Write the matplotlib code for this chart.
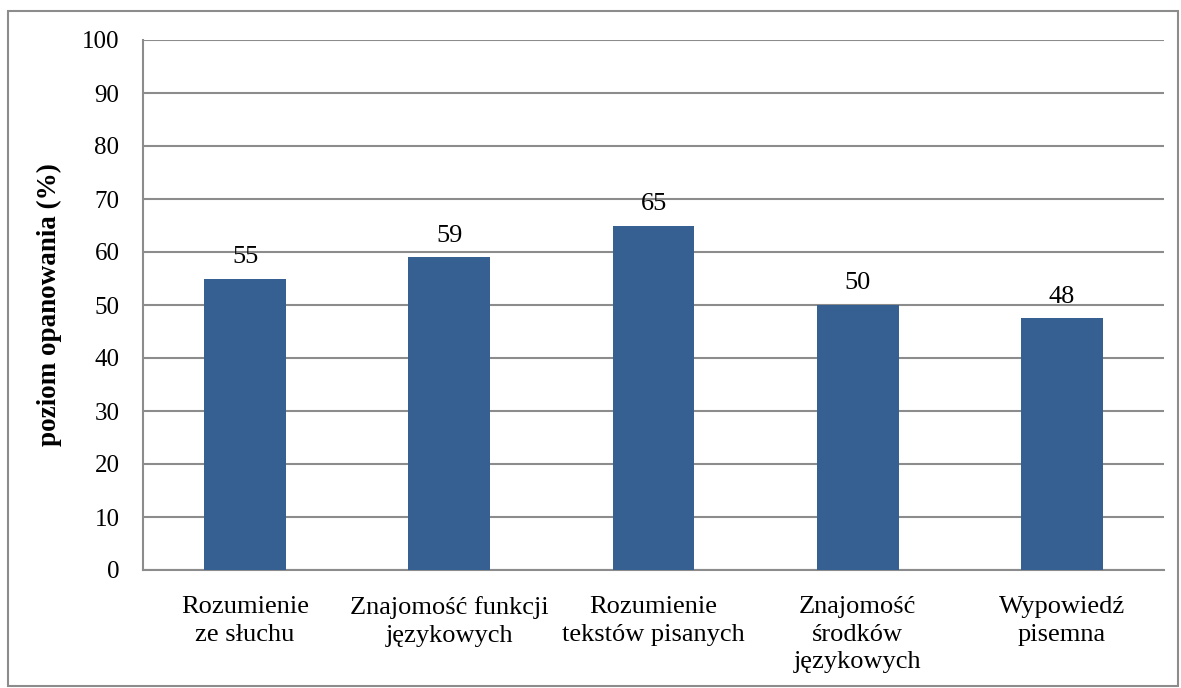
import numpy as np
import matplotlib.pyplot as plt
from matplotlib.patches import Rectangle

plt.rcParams['font.family'] = ['Liberation Serif', 'DejaVu Serif']

categories = ["Rozumienie\nze słuchu", "Znajomość funkcji\njęzykowych",
              "Rozumienie\ntekstów pisanych", "Znajomość\nśrodków\njęzykowych",
              "Wypowiedź\npisemna"]
values = [55, 59, 65, 50, 47.5]
labels = ["55", "59", "65", "50", "48"]

fig = plt.figure(figsize=(11.81, 6.88), dpi=100)
ax = fig.add_axes([143/1181, 1-570/688, 1021/1181, 530/688])

x = np.arange(len(categories))
ax.bar(x, values, width=0.4, color='#376092', zorder=3)
for xi, v, lb in zip(x, values, labels):
    ax.text(xi, v + 2.0, lb, ha='center', va='bottom', fontsize=19)

ax.set_xlim(-0.5, len(categories) - 0.5)
ax.set_ylim(0, 100)
ax.set_yticks(range(0, 101, 10))
ax.set_xticks(x)
ax.set_xticklabels(categories, fontsize=19, linespacing=1.32, va='top')
ax.tick_params(axis='y', labelsize=18, length=0, pad=17)
ax.tick_params(axis='x', length=0, pad=19)
ax.grid(axis='y', color='#8c8c8c', linewidth=1.5, zorder=0)
for s in ['top', 'right']:
    ax.spines[s].set_visible(False)
for s in ['left', 'bottom']:
    ax.spines[s].set_color('#8c8c8c')
    ax.spines[s].set_linewidth(1.5)
ax.set_ylabel('poziom opanowania (%)', fontsize=19.5, fontweight='bold', labelpad=14)

fig.patches.append(Rectangle((8/1181, 2/688), 1170/1181, 675/688, transform=fig.transFigure,
                             fill=False, edgecolor='#8c8c8c', linewidth=1.5))

fig.savefig('out.png', dpi=100)
